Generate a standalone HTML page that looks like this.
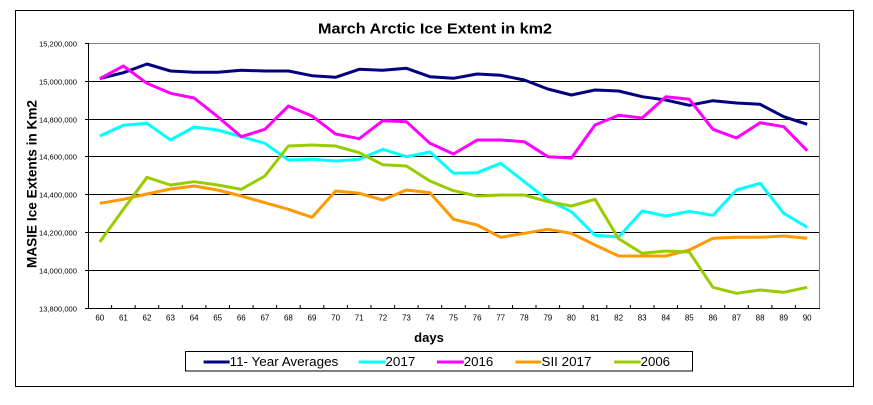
<!DOCTYPE html>
<html>
<head>
<meta charset="utf-8">
<style>
html,body{margin:0;padding:0;background:#fff;}
svg{display:block;}
text{font-family:"Liberation Sans",Arial,sans-serif;}
</style>
</head>
<body>
<svg width="873" height="405" viewBox="0 0 873 405" xmlns="http://www.w3.org/2000/svg">
<rect x="0" y="0" width="873" height="405" fill="#fff"/>
<!-- outer border -->
<rect x="15.5" y="10.5" width="838" height="376" fill="none" stroke="#000" stroke-width="1"/>
<!-- title -->
<text x="435" y="33.3" font-size="15" font-weight="bold" text-anchor="middle" textLength="234" lengthAdjust="spacingAndGlyphs">March Arctic Ice Extent in km2</text>
<!-- plot gridlines -->
<g stroke="#000" stroke-width="1">
<line x1="88" y1="81.5" x2="819" y2="81.5"/>
<line x1="88" y1="119.5" x2="819" y2="119.5"/>
<line x1="88" y1="156.5" x2="819" y2="156.5"/>
<line x1="88" y1="194.5" x2="819" y2="194.5"/>
<line x1="88" y1="232.5" x2="819" y2="232.5"/>
<line x1="88" y1="270.5" x2="819" y2="270.5"/>
</g>
<!-- plot top/right gray border -->
<line x1="88" y1="43.5" x2="819.5" y2="43.5" stroke="#808080" stroke-width="1"/>
<line x1="819.5" y1="43.5" x2="819.5" y2="308.5" stroke="#808080" stroke-width="1"/>
<!-- axes -->
<line x1="88.5" y1="43" x2="88.5" y2="309" stroke="#000" stroke-width="1"/>
<line x1="88" y1="308.5" x2="820" y2="308.5" stroke="#000" stroke-width="1"/>
<!-- y ticks -->
<g stroke="#000" stroke-width="1">
<line x1="85" y1="43.5" x2="88" y2="43.5"/>
<line x1="85" y1="81.5" x2="88" y2="81.5"/>
<line x1="85" y1="119.5" x2="88" y2="119.5"/>
<line x1="85" y1="156.5" x2="88" y2="156.5"/>
<line x1="85" y1="194.5" x2="88" y2="194.5"/>
<line x1="85" y1="232.5" x2="88" y2="232.5"/>
<line x1="85" y1="270.5" x2="88" y2="270.5"/>
<line x1="85" y1="308.5" x2="88" y2="308.5"/>
</g>
<!-- x ticks -->
<g stroke="#000" stroke-width="1" id="xt">
<line x1="111.6" y1="305" x2="111.6" y2="308"/>
<line x1="135.2" y1="305" x2="135.2" y2="308"/>
<line x1="158.7" y1="305" x2="158.7" y2="308"/>
<line x1="182.3" y1="305" x2="182.3" y2="308"/>
<line x1="205.9" y1="305" x2="205.9" y2="308"/>
<line x1="229.5" y1="305" x2="229.5" y2="308"/>
<line x1="253.1" y1="305" x2="253.1" y2="308"/>
<line x1="276.6" y1="305" x2="276.6" y2="308"/>
<line x1="300.2" y1="305" x2="300.2" y2="308"/>
<line x1="323.8" y1="305" x2="323.8" y2="308"/>
<line x1="347.4" y1="305" x2="347.4" y2="308"/>
<line x1="371.0" y1="305" x2="371.0" y2="308"/>
<line x1="394.6" y1="305" x2="394.6" y2="308"/>
<line x1="418.1" y1="305" x2="418.1" y2="308"/>
<line x1="441.7" y1="305" x2="441.7" y2="308"/>
<line x1="465.3" y1="305" x2="465.3" y2="308"/>
<line x1="488.9" y1="305" x2="488.9" y2="308"/>
<line x1="512.5" y1="305" x2="512.5" y2="308"/>
<line x1="536.0" y1="305" x2="536.0" y2="308"/>
<line x1="559.6" y1="305" x2="559.6" y2="308"/>
<line x1="583.2" y1="305" x2="583.2" y2="308"/>
<line x1="606.8" y1="305" x2="606.8" y2="308"/>
<line x1="630.4" y1="305" x2="630.4" y2="308"/>
<line x1="654.0" y1="305" x2="654.0" y2="308"/>
<line x1="677.5" y1="305" x2="677.5" y2="308"/>
<line x1="701.1" y1="305" x2="701.1" y2="308"/>
<line x1="724.7" y1="305" x2="724.7" y2="308"/>
<line x1="748.3" y1="305" x2="748.3" y2="308"/>
<line x1="771.9" y1="305" x2="771.9" y2="308"/>
<line x1="795.4" y1="305" x2="795.4" y2="308"/>
</g>
<!-- y labels -->
<g font-size="7.6" text-anchor="end" fill="#000">
<text x="77" y="46.3" textLength="38" lengthAdjust="spacingAndGlyphs">15,200,000</text>
<text x="77" y="84.3" textLength="38" lengthAdjust="spacingAndGlyphs">15,000,000</text>
<text x="77" y="122.3" textLength="38" lengthAdjust="spacingAndGlyphs">14,800,000</text>
<text x="77" y="159.3" textLength="38" lengthAdjust="spacingAndGlyphs">14,600,000</text>
<text x="77" y="197.3" textLength="38" lengthAdjust="spacingAndGlyphs">14,400,000</text>
<text x="77" y="235.3" textLength="38" lengthAdjust="spacingAndGlyphs">14,200,000</text>
<text x="77" y="273.3" textLength="38" lengthAdjust="spacingAndGlyphs">14,000,000</text>
<text x="77" y="311.3" textLength="38" lengthAdjust="spacingAndGlyphs">13,800,000</text>
</g>
<!-- x labels -->
<g font-size="8" text-anchor="middle" fill="#000">
<text x="99.8" y="320.5">60</text>
<text x="123.4" y="320.5">61</text>
<text x="147.0" y="320.5">62</text>
<text x="170.5" y="320.5">63</text>
<text x="194.1" y="320.5">64</text>
<text x="217.7" y="320.5">65</text>
<text x="241.3" y="320.5">66</text>
<text x="264.9" y="320.5">67</text>
<text x="288.4" y="320.5">68</text>
<text x="312.0" y="320.5">69</text>
<text x="335.6" y="320.5">70</text>
<text x="359.2" y="320.5">71</text>
<text x="382.8" y="320.5">72</text>
<text x="406.4" y="320.5">73</text>
<text x="429.9" y="320.5">74</text>
<text x="453.5" y="320.5">75</text>
<text x="477.1" y="320.5">76</text>
<text x="500.7" y="320.5">77</text>
<text x="524.3" y="320.5">78</text>
<text x="547.8" y="320.5">79</text>
<text x="571.4" y="320.5">80</text>
<text x="595.0" y="320.5">81</text>
<text x="618.6" y="320.5">82</text>
<text x="642.2" y="320.5">83</text>
<text x="665.8" y="320.5">84</text>
<text x="689.3" y="320.5">85</text>
<text x="712.9" y="320.5">86</text>
<text x="736.5" y="320.5">87</text>
<text x="760.1" y="320.5">88</text>
<text x="783.7" y="320.5">89</text>
<text x="807.2" y="320.5">90</text>
</g>
<!-- axis titles -->
<text transform="translate(36.5,184) rotate(-90)" font-size="14" font-weight="bold" text-anchor="middle" textLength="168" lengthAdjust="spacingAndGlyphs">MASIE Ice Extents in Km2</text>
<text x="429" y="342" font-size="13" font-weight="bold" text-anchor="middle">days</text>
<!-- series -->
<g fill="none" stroke-width="3" stroke-linejoin="round" stroke-linecap="butt">
<polyline stroke="#000080" points="99.8,78.5 123.4,72.7 147.0,64 170.5,71 194.1,72.3 217.7,72.3 241.3,70.3 264.9,71 288.4,71 312.0,75.7 335.6,77.3 359.2,69.3 382.8,70.3 406.4,68.3 429.9,76.7 453.5,78.3 477.1,74 500.7,75.3 524.3,80 547.8,89 571.4,95 595.0,90 618.6,91 642.2,96.7 665.8,100 689.3,105.3 712.9,100.7 736.5,103 760.1,104.3 783.7,116.7 807.2,124.3"/>
<polyline stroke="#00FFFF" points="99.8,136 123.4,125.3 147.0,123.3 170.5,140 194.1,127 217.7,130 241.3,136.7 264.9,143.3 288.4,160 312.0,159.3 335.6,161 359.2,159.3 382.8,149.3 406.4,156.7 429.9,152 453.5,173.3 477.1,172.7 500.7,163.3 524.3,181.7 547.8,200 571.4,211.7 595.0,235.3 618.6,237 642.2,211 665.8,216 689.3,211.3 712.9,215.3 736.5,190 760.1,183.3 783.7,213.3 807.2,227.3"/>
<polyline stroke="#FF00FF" points="99.8,78.7 123.4,66 147.0,83.3 170.5,93.3 194.1,98 217.7,116.7 241.3,136.7 264.9,129.3 288.4,106 312.0,116 335.6,134 359.2,138.7 382.8,120.7 406.4,121.7 429.9,143.3 453.5,154 477.1,140 500.7,140 524.3,141.7 547.8,156.7 571.4,158 595.0,125 618.6,115.3 642.2,118 665.8,96.7 689.3,99.3 712.9,129.3 736.5,138 760.1,122.7 783.7,126.7 807.2,150.7"/>
<polyline stroke="#FF9900" points="99.8,203.3 123.4,199.3 147.0,194 170.5,189 194.1,186 217.7,190 241.3,196 264.9,202.7 288.4,209.3 312.0,217.3 335.6,191 359.2,193.3 382.8,200 406.4,190 429.9,192.7 453.5,219.3 477.1,225 500.7,237.3 524.3,233.3 547.8,229.3 571.4,233.3 595.0,245 618.6,256 642.2,256 665.8,256 689.3,250 712.9,238.3 736.5,237.3 760.1,237.3 783.7,236 807.2,238.3"/>
<polyline stroke="#99CC00" points="99.8,242 123.4,209.3 147.0,177.3 170.5,185 194.1,181.7 217.7,185 241.3,189.3 264.9,176 288.4,146 312.0,145 335.6,146 359.2,152.7 382.8,164.7 406.4,166 429.9,181 453.5,190.7 477.1,196 500.7,195 524.3,195 547.8,201.7 571.4,206 595.0,199.3 618.6,238.7 642.2,253.3 665.8,251 689.3,252 712.9,287.3 736.5,293.3 760.1,290 783.7,292.3 807.2,287.3"/>
</g>
<!-- legend -->
<rect x="185.5" y="351.5" width="507" height="19.5" fill="#fff" stroke="#000" stroke-width="1"/>
<g stroke-width="3">
<line x1="203.6" y1="362" x2="229.6" y2="362" stroke="#000080"/>
<line x1="358.6" y1="362" x2="385.4" y2="362" stroke="#00FFFF"/>
<line x1="437" y1="362" x2="463.8" y2="362" stroke="#FF00FF"/>
<line x1="515.5" y1="362" x2="541.3" y2="362" stroke="#FF9900"/>
<line x1="614.2" y1="362" x2="640.7" y2="362" stroke="#99CC00"/>
</g>
<g font-size="13" fill="#000">
<text x="229.6" y="366" textLength="108.7" lengthAdjust="spacingAndGlyphs">11- Year Averages</text>
<text x="385.4" y="366" textLength="30" lengthAdjust="spacingAndGlyphs">2017</text>
<text x="463.8" y="366" textLength="29.5" lengthAdjust="spacingAndGlyphs">2016</text>
<text x="541.5" y="366" textLength="50" lengthAdjust="spacingAndGlyphs">SII 2017</text>
<text x="640.7" y="366" textLength="29.3" lengthAdjust="spacingAndGlyphs">2006</text>
</g>
</svg>
</body>
</html>
